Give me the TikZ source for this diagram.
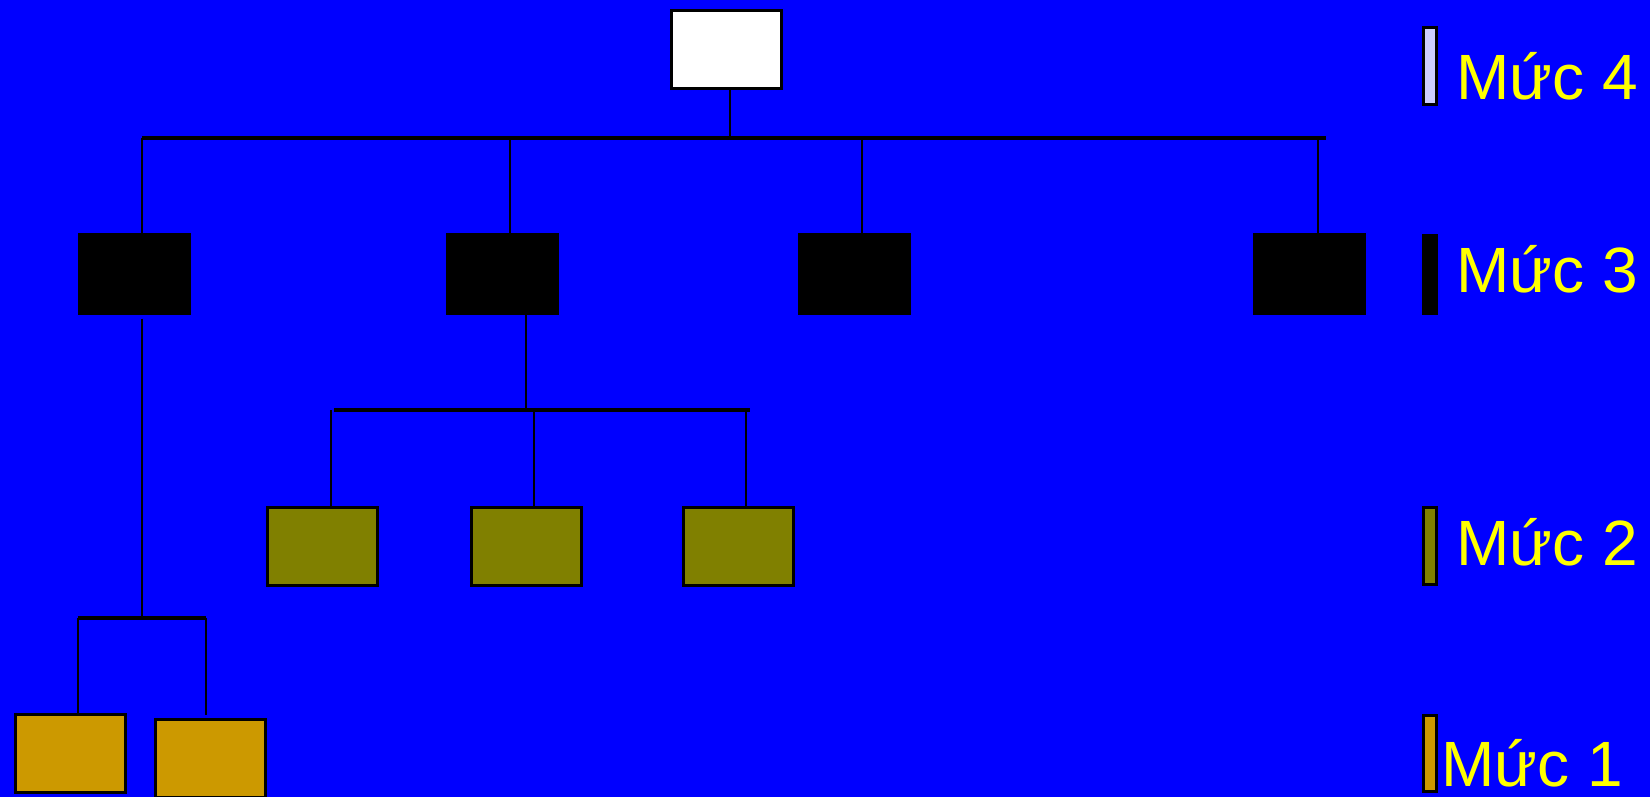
\documentclass[tikz,border=0pt]{standalone}
\usepackage{fontspec}
\setmainfont{Liberation Sans}
\definecolor{bg}{HTML}{0000FF}
\definecolor{olivebox}{HTML}{808000}
\definecolor{orangebox}{HTML}{CC9900}
\definecolor{lavender}{HTML}{CCCCFF}
\definecolor{labyellow}{HTML}{FFFF00}
\begin{document}
\begin{tikzpicture}[x=1pt,y=-1pt,
  box/.style={draw=black, line width=3pt, minimum width=110pt, minimum height=78pt, inner sep=0pt, outer sep=0pt, anchor=north west},
  blackbox/.style={box, fill=black, line width=1pt, minimum width=112pt, minimum height=81pt},
  bus/.style={line width=4.5pt},
  drop/.style={line width=2.8pt},
  bar/.style={draw=black, line width=3pt, minimum width=13pt, inner sep=0pt, outer sep=0pt, anchor=north west},
  lab/.style={text=labyellow, font=\fontsize{64}{68}\selectfont, inner sep=0pt, anchor=base west}]
\clip (0,0) rectangle (1650,797);
\fill[bg] (0,0) rectangle (1650,797);

% level 4
\node[box, fill=white, minimum width=110pt, minimum height=78pt] (top) at (671.5,11) {};
% level 3
\node[blackbox] (m3a) at (78.5,233.5) {};
\node[blackbox] (m3b) at (446.5,233.5) {};
\node[blackbox] (m3c) at (798.5,233.5) {};
\node[blackbox] (m3d) at (1253.5,233.5) {};
% level 2
\node[box, fill=olivebox] (m2a) at (267.5,507.5) {};
\node[box, fill=olivebox] (m2b) at (471.5,507.5) {};
\node[box, fill=olivebox] (m2c) at (683.5,507.5) {};
% level 1
\node[box, fill=orangebox] (m1a) at (15.5,714.5) {};
\node[box, fill=orangebox] (m1b) at (155.5,719.5) {};

% bus 1
\coordinate (b1l) at (142,138);
\coordinate (b1r) at (1326,138);
\coordinate (j1) at (730,138);
\coordinate (d1b) at (510,138);
\coordinate (d1c) at (862,138);
\coordinate (d1d) at (1318,138);
\draw[bus] (b1l) -- (b1r);
\draw[drop] (j1 |- top.south) -- (j1);
\draw[drop] (b1l) -- (b1l |- m3a.north);
\draw[drop] (d1b) -- (d1b |- m3b.north);
\draw[drop] (d1c) -- (d1c |- m3c.north);
\draw[drop] (d1d) -- (d1d |- m3d.north);

% bus 2
\coordinate (b2l) at (334,410);
\coordinate (b2r) at (750,410);
\coordinate (j2) at (526,410);
\coordinate (d2a) at (331,410);
\coordinate (d2b) at (534,410);
\coordinate (d2c) at (746,410);
\draw[bus] (b2l) -- (b2r);
\draw[drop] (j2 |- m3b.south) -- (j2);
\draw[drop] (d2a) -- (d2a |- m2a.north);
\draw[drop] (d2b) -- (d2b |- m2b.north);
\draw[drop] (d2c) -- (d2c |- m2c.north);

% bus 3
\coordinate (b3l) at (78,618);
\coordinate (b3r) at (206,618);
\coordinate (j3) at (142,618);
\draw[bus] (b3l) -- (b3r);
\draw[drop] ([yshift=-4pt]j3 |- m3a.south) -- (j3);
\draw[drop] (b3l) -- (b3l |- m1a.north);
\draw[drop] (b3r) -- (b3r |- m1a.north);

% legend
\node[bar, fill=lavender, minimum height=77.5pt] (L4) at (1423.5,27.5) {};
\node[bar, fill=black, minimum height=78pt] (L3) at (1423.5,235.5) {};
\node[bar, fill=olivebox, minimum height=77pt] (L2) at (1423.5,507.5) {};
\node[bar, fill=orangebox, minimum height=76pt] (L1) at (1423.5,715.5) {};
\node[lab] (T4) at (1456,99.5) {Mức 4};
\node[lab] (T3) at (1456,292.5) {Mức 3};
\node[lab] (T2) at (1456,565) {Mức 2};
\node[lab] (T1) at (1441,786) {Mức 1};
\end{tikzpicture}
\end{document}
